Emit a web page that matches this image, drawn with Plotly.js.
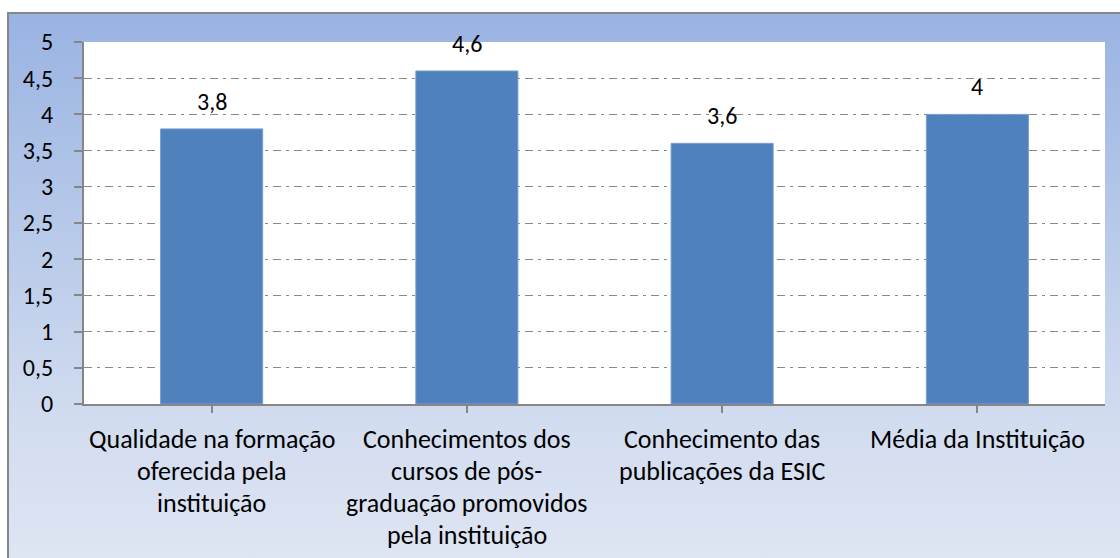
<!DOCTYPE html>
<html>
<head>
<meta charset="utf-8">
<script src="https://cdn.plot.ly/plotly-3.0.1.min.js"></script>
<style>
  html, body { margin: 0; padding: 0; width: 1120px; height: 558px; overflow: hidden; background: #ffffff; }
  #bg { position: absolute; left: 7px; top: 12px; width: 1120px; height: 560px;
        box-sizing: border-box; border-top: 2px solid #868686; border-left: 2px solid #868686;
        background: linear-gradient(to bottom, #99b3e2 0%, #b8cae9 40%, #d3ddf0 75%, #dfe6f3 100%); }
  #chart { position: absolute; left: 0; top: 0; width: 1120px; height: 558px; }
</style>
</head>
<body>
<div id="bg"></div>
<div id="chart"></div>
<script>
const categories = [
  "Qualidade na formação<br>oferecida pela<br>instituição",
  "Conhecimentos dos<br>cursos de pós-<br>graduação promovidos<br>pela instituição",
  "Conhecimento das<br>publicações da ESIC",
  "Média da Instituição"
];
const values = [3.8, 4.6, 3.6, 4];
const yTicks = [0, 0.5, 1, 1.5, 2, 2.5, 3, 3.5, 4, 4.5, 5];

const FONT = "Carlito, Calibri, Lato, sans-serif";
const FS = 26;
const TFS = 24;
const fmt = v => String(v).replace('.', ',');

const annotations = [];
// value labels
values.forEach((v, i) => {
  annotations.push({
    x: i, y: v, xref: 'x', yref: 'y', text: fmt(v), showarrow: false,
    yanchor: 'bottom', yshift: 11, font: {family: FONT, size: TFS, color: '#000'}
  });
});
// category labels, one annotation per line for Excel-like line spacing
categories.forEach((c, i) => {
  c.split('<br>').forEach((line, k) => {
    annotations.push({
      x: i, y: 0, xref: 'x', yref: 'y', text: line, showarrow: false,
      yanchor: 'middle', yshift: -35 - 32 * k,
      font: {family: FONT, size: FS, color: '#000'}
    });
  });
});

const trace = {
  type: 'bar',
  x: categories.map((c, i) => i),
  y: values,
  marker: {color: '#4f81bd', line: {color: '#7a9fd0', width: 1}},
  hoverinfo: 'none'
};

const layout = {
  width: 1120, height: 558,
  margin: {l: 84, r: 15, t: 42, b: 154},
  paper_bgcolor: 'rgba(0,0,0,0)',
  plot_bgcolor: '#ffffff',
  separators: ',.',
  showlegend: false,
  bargap: 0.6,
  font: {family: FONT, size: TFS, color: '#000'},
  xaxis: {
    range: [-0.5, 3.5], tickvals: [0, 1, 2, 3], ticktext: ['', '', '', ''],
    tickson: 'boundaries', ticks: 'outside', ticklen: 7, tickwidth: 2, tickcolor: '#868686',
    showline: true, linecolor: '#868686', linewidth: 2, showgrid: false, zeroline: false,
    fixedrange: true
  },
  yaxis: {
    range: [0, 5], tickvals: yTicks, ticktext: yTicks.map(fmt),
    ticks: 'outside', ticklen: 8, tickwidth: 2, tickcolor: '#868686',
    showline: true, linecolor: '#868686', linewidth: 2,
    showgrid: true, gridcolor: '#8a8a8a', gridwidth: 1, griddash: '8px,5px,3px,5px',
    zeroline: false, tickfont: {family: FONT, size: TFS, color: '#000'}, ticklabelstandoff: 16,
    fixedrange: true
  },
  annotations: annotations
};

Plotly.newPlot('chart', [trace], layout, {displayModeBar: false, staticPlot: true});
</script>
</body>
</html>
